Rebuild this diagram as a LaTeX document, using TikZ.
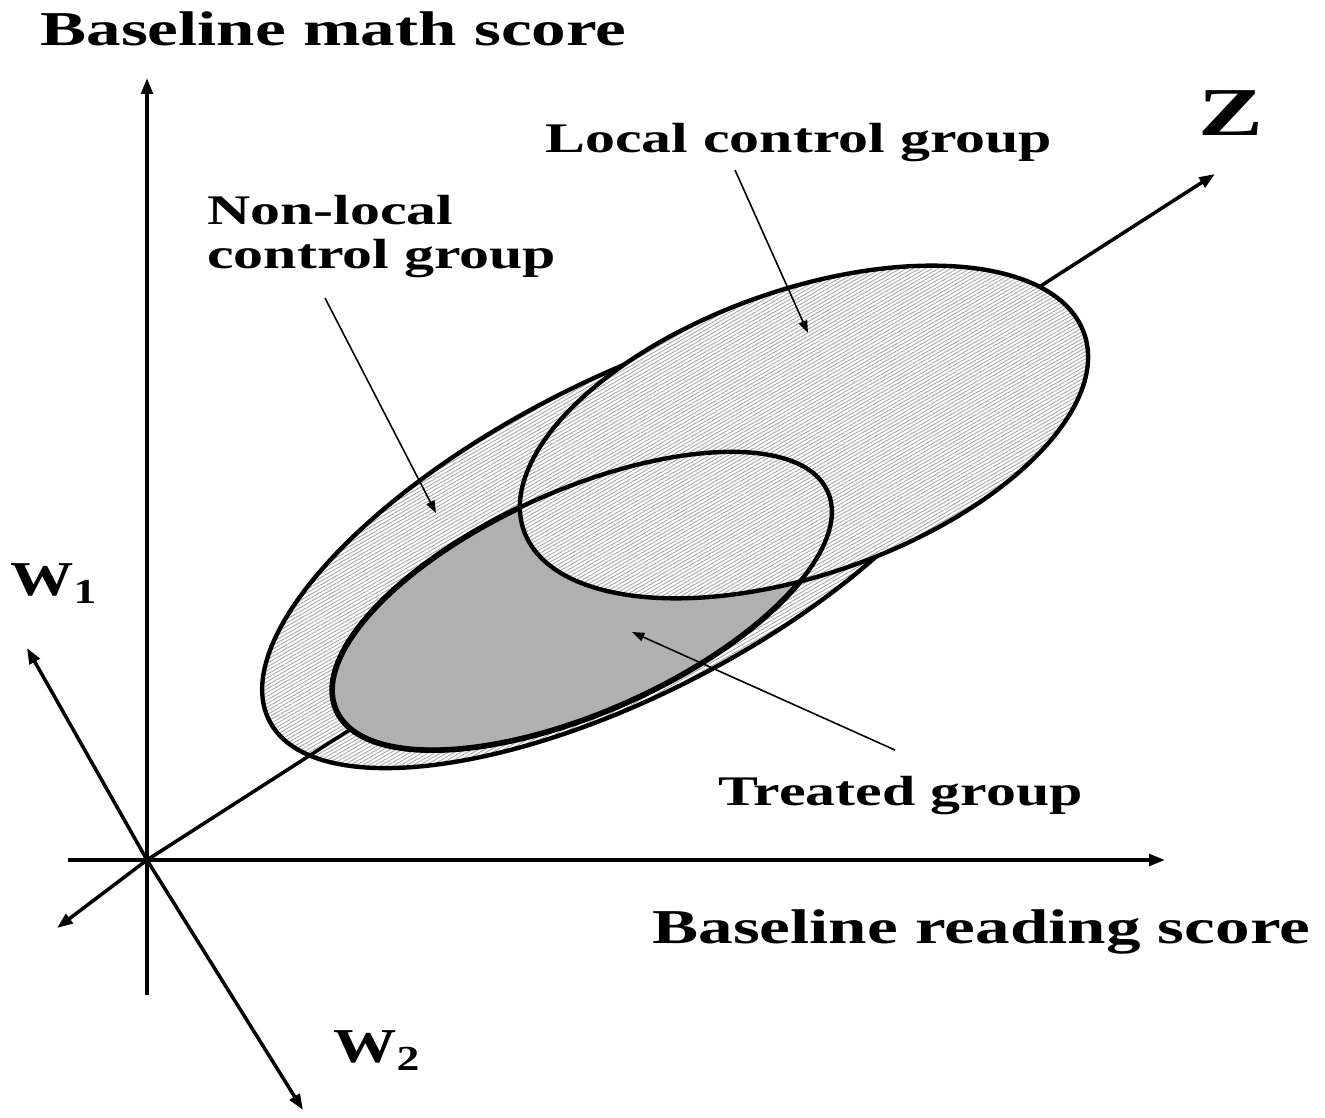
\documentclass[tikz,border=0pt]{standalone}
\usepackage{fontspec}
\usepackage{graphicx}
\setmainfont{Liberation Serif}
\usetikzlibrary{arrows.meta,patterns.meta}
\definecolor{treatgray}{RGB}{176,176,176}
\definecolor{hatchgray}{RGB}{165,165,165}
\newcommand{\wide}[2][1.42]{\scalebox{#1}[1]{#2}}
\tikzset{
  axis/.style={line width=2pt, -{Triangle[length=9pt,width=6.5pt]}},
  pointer/.style={line width=0.9pt, -{Triangle[length=7pt,width=5pt]}},
  hatched/.style={preaction={fill=white}, pattern={Lines[angle=30,distance=1.8pt,line width=0.5pt]}, pattern color=hatchgray},
  rim/.style={line width=2.5pt},
  biglbl/.style={font=\fontsize{27.7}{30}\selectfont\bfseries, inner sep=0pt, anchor=base west},
  grplbl/.style={font=\fontsize{24}{26}\selectfont\bfseries, inner sep=0pt, anchor=base west},
}
\begin{document}
\begin{tikzpicture}[x=0.02cm, y=-0.02cm, line join=round]
  \useasboundingbox (0,0) rectangle (1325,1117);
  % origin and axis ends
  \coordinate (O) at (147,860);
  \coordinate (ytop) at (147,78);
  \coordinate (ybot) at (147,995);
  \coordinate (xleft) at (68,860);
  \coordinate (xright) at (1165,860);
  \coordinate (ztip) at (1215,174);
  \coordinate (zback) at (57,928);
  \coordinate (wone) at (27,648);
  \coordinate (wtwo) at (303,1110);
  % group centres
  \coordinate (nonloc) at (624,538);
  \coordinate (loc) at (804,432);
  \coordinate (treat) at (582,601);

  % non-local control group
  \draw[hatched, rim, rotate around={27.3:(nonloc)}] (nonloc) ellipse [x radius=399, y radius=157];
  \draw[axis] (O) -- (ztip);
  % treated group
  \draw[fill=treatgray, line width=3.2pt, rotate around={24:(treat)}] (treat) ellipse [x radius=269, y radius=111];
  \draw[line width=1.4pt, rotate around={24:(treat)}, shift={(2,3)}] (treat) ellipse [x radius=269, y radius=111];
  % local control group
  \fill[hatched, rotate around={19.4:(loc)}] (loc) ellipse [x radius=297, y radius=142];
  \draw[rim, rotate around={24:(treat)}] (treat) ellipse [x radius=269, y radius=111];
  \draw[rim, rotate around={19.4:(loc)}] (loc) ellipse [x radius=297, y radius=142];

  % axes
  \draw[axis] (ybot) -- (ytop);
  \draw[axis] (xleft) -- (xright);
  \draw[axis] (O) -- (zback);
  \draw[axis] (O) -- (wone);
  \draw[axis] (O) -- (wtwo);

  % labels
  \node[biglbl] (mathlbl) at (40,45) {\wide{Baseline math score}};
  \node[biglbl] (readlbl) at (652,943) {\wide{Baseline reading score}};
  \node[grplbl] (loclbl) at (545,152) {\wide{Local control group}};
  \node[grplbl] (nonloclbl) at (207,224) {\wide{Non-local}};
  \node[grplbl] (ctrllbl) at (207,268) {\wide{control group}};
  \node[grplbl] (treatlbl) at (718,805) {\wide{Treated group}};
  \node[inner sep=0pt, anchor=base west, font=\fontsize{39}{40}\selectfont\bfseries] (zlbl) at (1198,135) {\wide{Z}};
  \node[biglbl] (wonelbl) at (10,595) {\wide[1.3]{W}\raisebox{-0.4ex}{\fontsize{20}{20}\selectfont\wide[1.3]{1}}};
  \node[biglbl] (wtwolbl) at (333,1062) {\wide[1.3]{W}\raisebox{-0.4ex}{\fontsize{20}{20}\selectfont\wide[1.3]{2}}};

  % pointers
  \coordinate (loctail) at (735,170);
  \coordinate (loctip) at (808,333);
  \coordinate (nonloctail) at (325,298);
  \coordinate (nonloctip) at (436,513);
  \coordinate (treattail) at (895,750);
  \coordinate (treattip) at (632,632);
  \draw[pointer] (loctail) -- (loctip);
  \draw[pointer] (nonloctail) -- (nonloctip);
  \draw[pointer] (treattail) -- (treattip);
\end{tikzpicture}
\end{document}
